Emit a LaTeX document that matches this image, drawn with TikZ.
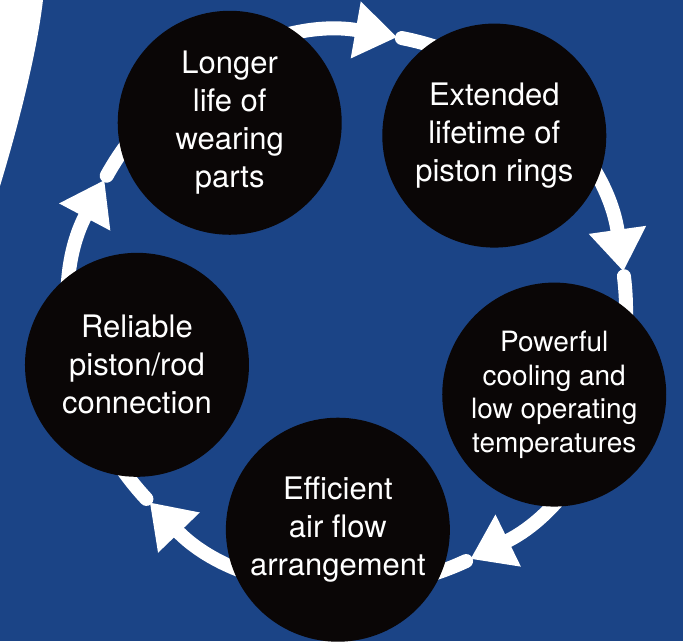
\documentclass[tikz,border=0pt]{standalone}
\usepackage{fontspec}
\setmainfont{TeX Gyre Heros}
\usetikzlibrary{arrows.meta}
\definecolor{deepblue}{RGB}{27,68,134}
\definecolor{nearblack}{RGB}{10,6,6}

\begin{document}
\begin{tikzpicture}[x=0.5pt,y=0.5pt,
    bubble/.style={circle, fill=nearblack, text=white, minimum size=112pt, inner sep=0pt, align=center, font=\fontsize{15.5}{19}\selectfont},
    ringarc/.style={white, line width=7pt, line cap=round, -{Triangle[length=21pt,width=27.5pt]}}]

    \useasboundingbox (-349,-331) rectangle (334,310);
    \fill[deepblue] (-349,-331) rectangle (334,310);
    \fill[white] (-349,310) -- (-306,310) .. controls (-313,250) and (-335,170) .. (-349,124) -- cycle;

    % ring with five arrows
    \foreach \a [count=\i] in {80,8,-64,-136,-208}
        \coordinate (s\i) at (\a-1:277);
    \foreach \a [count=\i] in {80,8,-64,-136,-208}
        \draw[ringarc] (s\i) arc[start angle=\a-1, delta angle=-71, radius=277];

    \node[bubble] (life) at (122.5:222) {Longer\\life of\\wearing\\parts};
    \node[bubble] (rings) at (50.2:227) {Extended\\lifetime of\\piston rings};
    \node[bubble, font=\fontsize{14}{16.75}\selectfont] (cool) at (-22.4:222) {Powerful\\cooling and\\low operating\\temperatures};
    \node[bubble] (flow) at (-92.9:220) {Efficient\\air flow\\arrangement};
    \node[bubble] (rod) at (-165.5:219) {Reliable\\piston/rod\\connection};

\end{tikzpicture}
\end{document}
